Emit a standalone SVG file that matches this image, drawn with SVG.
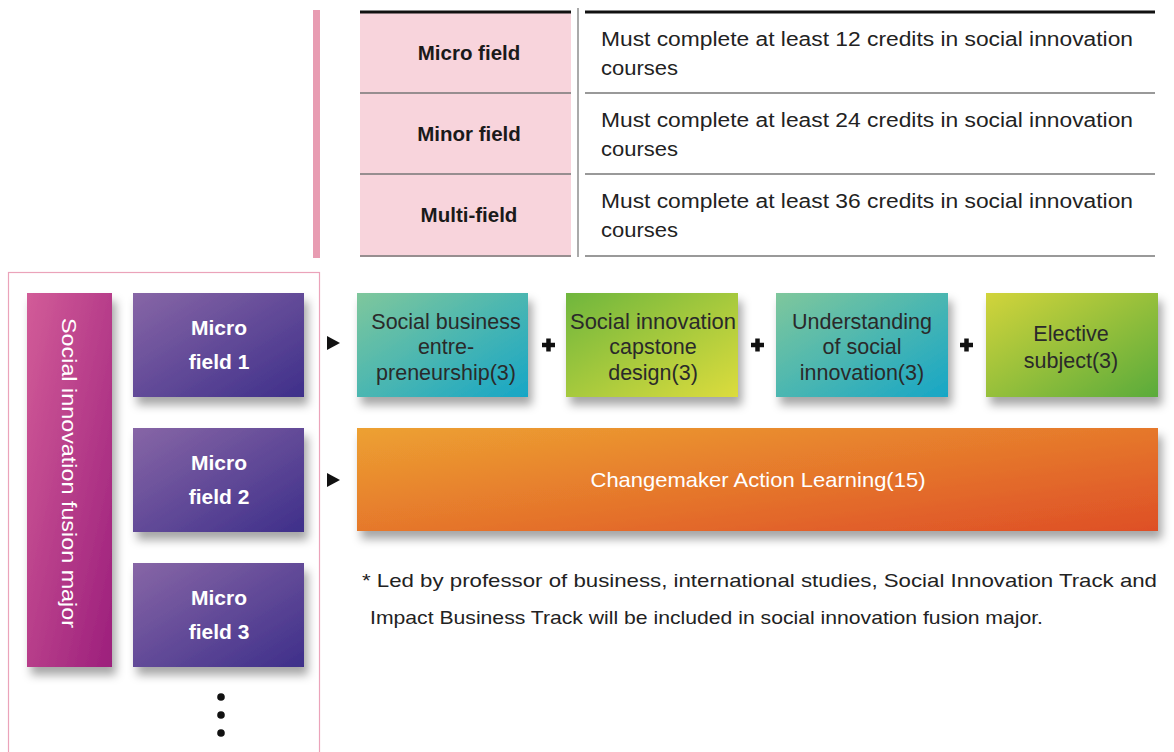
<svg xmlns="http://www.w3.org/2000/svg" width="1174" height="752" viewBox="0 0 1174 752">
<style>
.t{font-family:"Liberation Sans",Arial,sans-serif}
.lab{font-size:20.5px;font-weight:bold;fill:#1a1a1a;text-anchor:middle}
.desc{font-size:20px;fill:#222}
.mf{font-size:21px;font-weight:bold;fill:#fff;text-anchor:middle}
.cr{font-size:21.5px;fill:#2a2a2a;text-anchor:middle}
.note{font-size:19px;fill:#222}
.pink{fill:#f8d4dc}
.thick{stroke:#111;stroke-width:3}
.thin{stroke:#777;stroke-width:1.5}
</style>
<defs>
<linearGradient id="gMag" x1="0" y1="0" x2="1" y2="1"><stop offset="0" stop-color="#d25c98"/><stop offset="1" stop-color="#9c1f7c"/></linearGradient>
<linearGradient id="gPur" x1="0" y1="0" x2="1" y2="1"><stop offset="0" stop-color="#8766a6"/><stop offset="1" stop-color="#3e2f8a"/></linearGradient>
<linearGradient id="gTeal" x1="0" y1="0" x2="1" y2="1"><stop offset="0" stop-color="#7fc79c"/><stop offset="1" stop-color="#17a6c6"/></linearGradient>
<linearGradient id="gGreen" x1="0" y1="0" x2="1" y2="1"><stop offset="0" stop-color="#6fb63c"/><stop offset="1" stop-color="#dcdc3c"/></linearGradient>
<linearGradient id="gYG" x1="0" y1="0" x2="1" y2="1"><stop offset="0" stop-color="#d2d43a"/><stop offset="1" stop-color="#5aab3a"/></linearGradient>
<linearGradient id="gOr" x1="0" y1="0" x2="1" y2="1"><stop offset="0" stop-color="#eda131"/><stop offset="1" stop-color="#de4f27"/></linearGradient>
<filter id="sh" x="-10%" y="-10%" width="130%" height="140%"><feDropShadow dx="4" dy="8" stdDeviation="5" flood-color="#000" flood-opacity="0.35"/></filter>
</defs>

<g id="table">
<rect x="313" y="10" width="7" height="248" fill="#e89cb2"/>
<rect class="pink" x="360" y="11" width="211" height="246"/>
<line class="thick" x1="360" y1="12" x2="571" y2="12"/>
<line class="thick" x1="585" y1="12" x2="1155" y2="12"/>
<line x1="578" y1="8" x2="578" y2="257" stroke="#aaa" stroke-width="2"/>
<line class="thin" x1="360" y1="93" x2="571" y2="93"/>
<line class="thin" x1="585" y1="93" x2="1155" y2="93"/>
<line class="thin" x1="360" y1="174" x2="571" y2="174"/>
<line class="thin" x1="585" y1="174" x2="1155" y2="174"/>
<line class="thin" x1="360" y1="256" x2="571" y2="256"/>
<line class="thin" x1="585" y1="256" x2="1155" y2="256"/>
<g id="row1"><text class="t lab" x="469" y="60">Micro field</text>
<text class="t desc" x="601" y="46" textLength="532" lengthAdjust="spacingAndGlyphs">Must complete at least 12 credits in social innovation</text>
<text class="t desc" x="601" y="75" textLength="77" lengthAdjust="spacingAndGlyphs">courses</text></g>
<g id="row2"><text class="t lab" x="469" y="141">Minor field</text>
<text class="t desc" x="601" y="127" textLength="532" lengthAdjust="spacingAndGlyphs">Must complete at least 24 credits in social innovation</text>
<text class="t desc" x="601" y="156" textLength="77" lengthAdjust="spacingAndGlyphs">courses</text></g>
<g id="row3"><text class="t lab" x="469" y="222">Multi-field</text>
<text class="t desc" x="601" y="208" textLength="532" lengthAdjust="spacingAndGlyphs">Must complete at least 36 credits in social innovation</text>
<text class="t desc" x="601" y="237" textLength="77" lengthAdjust="spacingAndGlyphs">courses</text></g>
</g>

<rect x="8.5" y="272.5" width="311" height="490" fill="none" stroke="#eba3ba" stroke-width="1.2"/>

<g id="major">
<rect x="27" y="293" width="85" height="374" fill="url(#gMag)" filter="url(#sh)"/>
<text class="t" transform="translate(62,473) rotate(90)" font-size="20" fill="#fff" text-anchor="middle" textLength="310" lengthAdjust="spacingAndGlyphs">Social innovation fusion major</text>
</g>

<g id="mf1"><rect x="133" y="293" width="171" height="104" fill="url(#gPur)" filter="url(#sh)"/>
<text class="t mf" x="219" y="335">Micro</text><text class="t mf" x="219" y="369">field 1</text></g>
<g id="mf2"><rect x="133" y="428" width="171" height="104" fill="url(#gPur)" filter="url(#sh)"/>
<text class="t mf" x="219" y="470">Micro</text><text class="t mf" x="219" y="504">field 2</text></g>
<g id="mf3"><rect x="133" y="563" width="171" height="104" fill="url(#gPur)" filter="url(#sh)"/>
<text class="t mf" x="219" y="605">Micro</text><text class="t mf" x="219" y="639">field 3</text></g>
<g id="dots" fill="#111"><circle cx="221" cy="697" r="3.8"/><circle cx="221" cy="715" r="3.8"/><circle cx="221" cy="733" r="3.8"/></g>

<g id="connectors" fill="#111">
<polygon points="327,336 340,343 327,350"/>
<polygon points="327,473 340,480 327,487"/>
<path d="M542,345h13M548.5,338.5v13" stroke="#111" stroke-width="4.5"/>
<path d="M751,345h13M757.5,338.5v13" stroke="#111" stroke-width="4.5"/>
<path d="M960,345h13M966.5,338.5v13" stroke="#111" stroke-width="4.5"/>
</g>

<g id="c1"><rect x="357" y="293" width="171" height="104" fill="url(#gTeal)" filter="url(#sh)"/>
<text class="t cr" x="446" y="329">Social business</text><text class="t cr" x="446" y="354">entre-</text><text class="t cr" x="446" y="380">preneurship(3)</text></g>
<g id="c2"><rect x="566" y="293" width="172" height="104" fill="url(#gGreen)" filter="url(#sh)"/>
<text class="t cr" x="653" y="329" textLength="166" lengthAdjust="spacingAndGlyphs">Social innovation</text><text class="t cr" x="653" y="354">capstone</text><text class="t cr" x="653" y="380">design(3)</text></g>
<g id="c3"><rect x="776" y="293" width="172" height="104" fill="url(#gTeal)" filter="url(#sh)"/>
<text class="t cr" x="862" y="329">Understanding</text><text class="t cr" x="862" y="354">of social</text><text class="t cr" x="862" y="380">innovation(3)</text></g>
<g id="c4"><rect x="986" y="293" width="172" height="104" fill="url(#gYG)" filter="url(#sh)"/>
<text class="t cr" x="1071" y="341">Elective</text><text class="t cr" x="1071" y="368">subject(3)</text></g>

<g id="cal"><rect x="357" y="428" width="801" height="103" fill="url(#gOr)" filter="url(#sh)"/>
<text class="t" x="758" y="487" font-size="21" fill="#fff" text-anchor="middle" textLength="335" lengthAdjust="spacingAndGlyphs">Changemaker Action Learning(15)</text></g>

<g id="note">
<text class="t note" x="362" y="587" textLength="795" lengthAdjust="spacingAndGlyphs">* Led by professor of business, international studies, Social Innovation Track and</text>
<text class="t note" x="370" y="624" textLength="673" lengthAdjust="spacingAndGlyphs">Impact Business Track will be included in social innovation fusion major.</text>
</g>
</svg>
